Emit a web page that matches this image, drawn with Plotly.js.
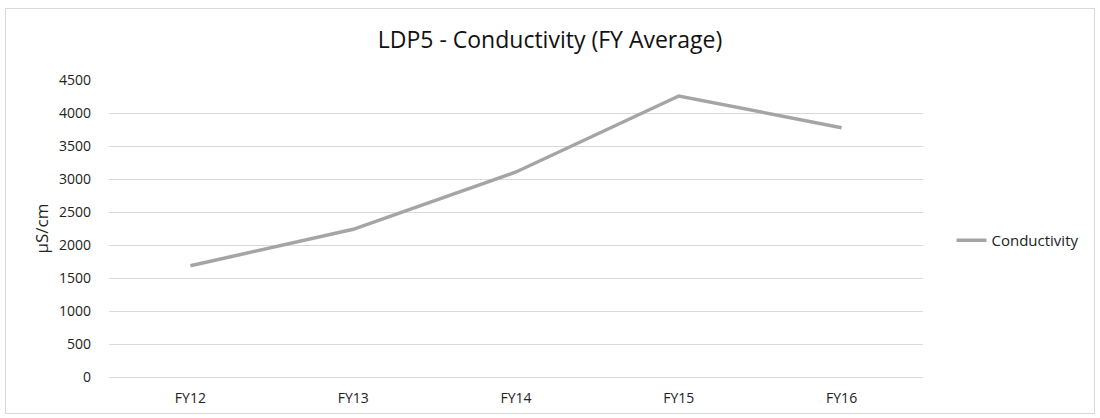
<!DOCTYPE html>
<html>
<head>
<meta charset="utf-8">
<script src="https://cdn.plot.ly/plotly-3.0.1.min.js"></script>
<style>
  html, body { margin: 0; padding: 0; background: #fff; }
  #frame { position: absolute; left: 5px; top: 8px; width: 1088px; height: 404px; border: 1px solid #D9D9D9; }
  #chart { position: absolute; left: 0; top: 0; width: 1100px; height: 418px; }
</style>
</head>
<body>
<div id="frame"></div>
<div id="chart"></div>
<script>
const categories = ["FY12", "FY13", "FY14", "FY15", "FY16"];
const conductivity = [1686, 2238, 3106, 4258, 3777];
const yTicks = [0, 500, 1000, 1500, 2000, 2500, 3000, 3500, 4000, 4500];
const seriesName = "Conductivity";
const chartTitle = "LDP5 - Conductivity (FY Average)";
const yTitle = "µS/cm";

const font = "Open Sans, Liberation Sans, sans-serif";

Plotly.newPlot("chart", [{
  type: "scatter",
  mode: "lines",
  x: categories,
  y: conductivity,
  name: seriesName,
  line: { color: "#A5A5A5", width: 3.5 },
  showlegend: true
}], {
  width: 1100,
  height: 418,
  paper_bgcolor: "rgba(0,0,0,0)",
  plot_bgcolor: "rgba(0,0,0,0)",
  margin: { l: 109, r: 177, t: 80, b: 41 },
  title: {
    text: chartTitle,
    font: { family: font, size: 23, color: "#111" },
    x: 0.5, xanchor: "center",
    y: 0.905, yanchor: "middle"
  },
  xaxis: {
    type: "category",
    range: [-0.5, 4.5],
    showgrid: false,
    zeroline: false,
    showline: false,
    ticks: "",
    ticklabelstandoff: 11,
    tickfont: { family: font, size: 14, color: "#222" }
  },
  yaxis: {
    range: [0, 4500],
    tickvals: yTicks,
    ticktext: yTicks.map(String),
    showgrid: true,
    gridcolor: "#D9D9D9",
    gridwidth: 1,
    zeroline: true,
    zerolinecolor: "#D9D9D9",
    zerolinewidth: 1,
    showline: false,
    ticks: "",
    ticklabelstandoff: 17,
    tickfont: { family: font, size: 14, color: "#222" },
    title: { text: yTitle, font: { family: font, size: 17, color: "#222" }, standoff: 6 }
  },
  legend: {
    x: 1.035, xanchor: "left",
    y: 0.46, yanchor: "middle",
    font: { family: font, size: 15, color: "#222" },
    bgcolor: "rgba(0,0,0,0)"
  },
  showlegend: true
}, { displayModeBar: false, staticPlot: true });
</script>
</body>
</html>
